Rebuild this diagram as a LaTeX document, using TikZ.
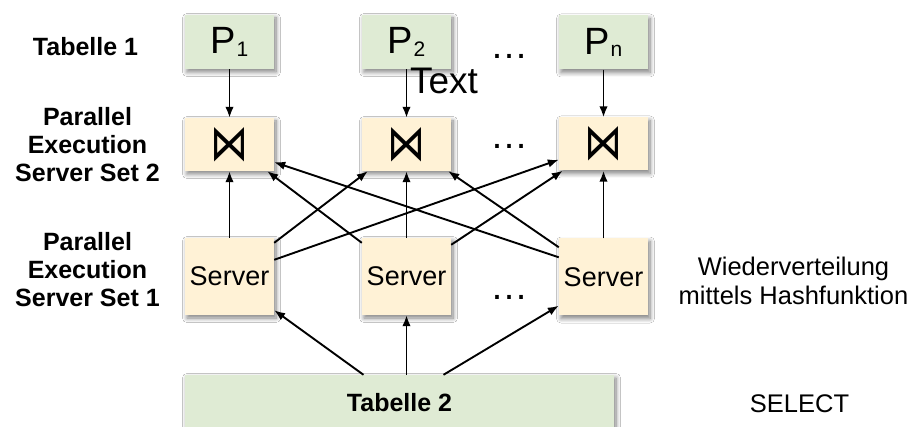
\documentclass[tikz,border=0pt]{standalone}
\usepackage{graphicx}
\usepackage{fontspec}
\setmainfont{Liberation Sans}
\newfontfamily\symfont{DejaVu Sans}
\usetikzlibrary{arrows.meta,shadows.blur,calc}

\definecolor{partgreen}{RGB}{223,235,212}
\definecolor{procyellow}{RGB}{255,242,214}

% partition label P with a subscript sitting near the baseline
\newcommand\partlabel[1]{P\kern0.5pt\raisebox{-2.5pt}{\fontsize{21}{21}\selectfont #1}}
% join operator glyph
\newcommand\joinsym{\resizebox{38pt}{33pt}{\symfont ⋈}}

\begin{document}
\begin{tikzpicture}[x=1pt,y=-1pt,
  box/.style={draw=none, inner sep=0pt, minimum width=89pt,
    blur shadow={shadow xshift=2pt, shadow yshift=-3pt,
      shadow blur radius=4.5pt, shadow blur steps=8, shadow opacity=50}},
  part/.style={box, fill=partgreen, minimum height=54pt,
    font=\fontsize{38}{38}\selectfont},
  joinbox/.style={box, fill=procyellow, minimum height=53pt},
  srv/.style={box, fill=procyellow, minimum height=77pt,
    font=\fontsize{27}{30}\selectfont},
  lbl/.style={align=center, font=\fontsize{25}{28}\selectfont\bfseries},
  note/.style={align=center, font=\fontsize{25.5}{29}\selectfont},
  dots/.style={font=\fontsize{38}{38}\selectfont, inner sep=0pt},
  flow/.style={-{Latex[length=11pt,width=8.5pt]}, line width=1.9pt},
]
\path[use as bounding box, fill=white] (0,0) rectangle (924,427);

% table 1 partitions
\node[part] (P1) at (229.5,42) {\partlabel{1}};
\node[part] (P2) at (406.5,42) {\partlabel{2}};
\node[part] (Pn) at (603.5,42.5) {\partlabel{n}};

% join servers (set 2)
\node[joinbox] (J1) at (229.5,144.5) {\joinsym};
\node[joinbox] (J2) at (406.5,144.5) {\joinsym};
\node[joinbox] (Jn) at (603.5,144) {\joinsym};

% scan servers (set 1)
\node[srv] (S1) at (229.5,276.5) {Server};
\node[srv] (S2) at (406.5,276.5) {Server};
\node[srv] (Sn) at (603.5,277) {Server};

% table 2
\node[box, fill=partgreen, minimum width=429pt, minimum height=56pt,
  font=\fontsize{25}{28}\selectfont\bfseries] (T2) at (399.5,403) {Tabelle 2};

% ellipses between columns
\node[dots] (d1) at (509,56) {…};
\node[dots] (d2) at (509,146) {…};
\node[dots] (d3) at (509,297) {…};

% row labels
\node[lbl] (l1) at (85.5,46.5) {Tabelle 1};
\node[lbl] (l2) at (87.5,145) {Parallel\\Execution\\Server Set 2};
\node[lbl] (l3) at (87.5,270) {Parallel\\Execution\\Server Set 1};
\node[note] (n1) at (793.5,281) {Wiederverteilung\\mittels Hashfunktion};
\node[note] (n2) at (799.5,404) {SELECT};

% partitions into joins
\draw[flow] (P1) -- (J1);
\draw[flow] (P2) -- (J2);
\draw[flow] (Pn) -- (Jn);

% servers straight up into joins
\draw[flow] (S1) -- (J1);
\draw[flow] (S2) -- (J2);
\draw[flow] (Sn) -- (Jn);

% hash redistribution
\draw[flow] ([yshift=-5pt]S1.north east) -- ([xshift=6pt]J2.south west);
\draw[flow] ([yshift=-22pt]S1.north east) -- ([yshift=11pt]Jn.south west);
\draw[flow] ([yshift=-5pt]S2.north west) -- ([xshift=-7pt]J1.south east);
\draw[flow] ([yshift=-7pt]S2.north east) -- ([xshift=4pt]Jn.south west);
\draw[flow] ([yshift=-9pt]Sn.north west) -- ([xshift=-3pt]J2.south east);
\draw[flow] ([yshift=-19pt]Sn.north west) -- ([yshift=9pt]J1.south east);

% table 2 read by the scan servers
\draw[flow] ([xshift=-36pt]T2.north) -- ([yshift=5pt]S1.south east);
\draw[flow] (S2.south |- T2.north) -- (S2.south);
\draw[flow] ([xshift=44pt]T2.north) -- ([yshift=10pt]Sn.south west);

% free text over the second partition
\node[font=\fontsize{37}{37}\selectfont, inner sep=0pt] (tx) at (444,81) {Text};
\end{tikzpicture}
\end{document}
